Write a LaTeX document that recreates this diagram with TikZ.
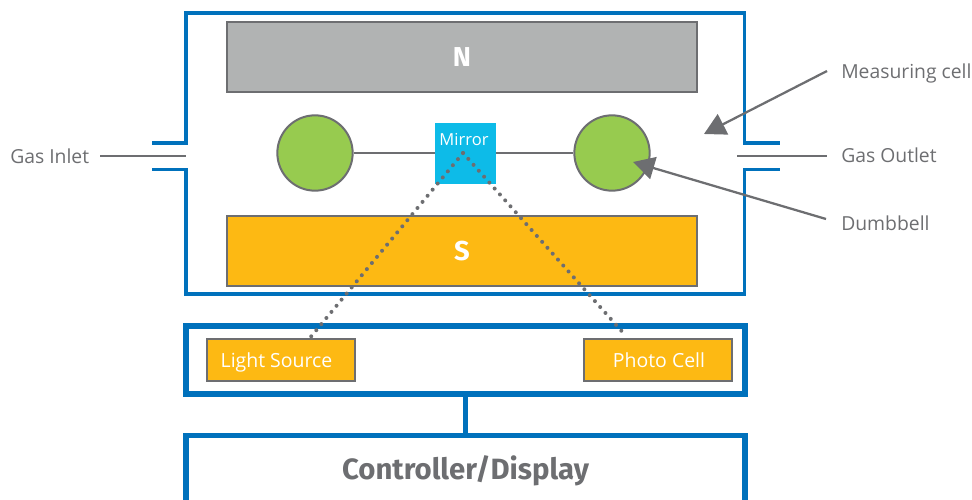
\documentclass[tikz,border=0pt]{standalone}
\usepackage{fontspec}
\setmainfont{Open Sans}
\newfontfamily\heavyfont{Fira Sans}[UprightFont=*,BoldFont=* Bold]
\usetikzlibrary{arrows.meta}
\definecolor{geblue}{HTML}{0071BC}
\definecolor{gegray}{HTML}{6D6E71}
\definecolor{magnetgray}{HTML}{B1B3B3}
\definecolor{geamber}{HTML}{FDB913}
\definecolor{gegreen}{HTML}{97CB4F}
\definecolor{mirrorblue}{HTML}{0DBBE8}
\tikzset{
  x=0.75pt,y=-0.75pt,
  cellwall/.style={draw=geblue,line width=2.7pt,line cap=butt,line join=miter},
  heavybox/.style={draw=geblue,line width=4.4pt,fill=white,inner sep=0pt,minimum width=419.5pt},
  magnet/.style={draw=gegray,line width=1.7pt,inner sep=0pt,minimum width=352pt,minimum height=52pt,text=white,font=\fontsize{20.5}{24}\selectfont\heavyfont\bfseries},
  ball/.style={circle,draw=gegray,line width=1.5pt,fill=gegreen,inner sep=0pt,minimum size=56.5pt},
  lamp/.style={draw=gegray,line width=1.6pt,fill=geamber,inner sep=0pt,minimum width=111.5pt,minimum height=31pt},
  lamptext/.style={text=white,inner sep=0pt,anchor=base,font=\fontsize{14.6}{18}\selectfont},
  lbl/.style={text=gegray,inner sep=0pt,anchor=base west,font=\fontsize{14.5}{18}\selectfont},
  thin/.style={draw=gegray,line width=1.7pt},
  ray/.style={draw=gegray,line width=3pt,line cap=round,dash pattern=on 0pt off 5.95pt},
  pointer/.style={draw=gegray,line width=1.7pt,-{Triangle[length=16pt,width=17pt,fill=gegray]}},
}
\begin{document}
\begin{tikzpicture}
\useasboundingbox (0,0) rectangle (972,500);
\clip (0,0) rectangle (972,500);
% measuring cell wall
\draw[cellwall] (152,143) -- (186,143) -- (186,13) -- (744.5,13) -- (744.5,143) -- (780,143);
\draw[cellwall] (152,169.5) -- (186,169.5) -- (186,294) -- (744.5,294) -- (744.5,169.5) -- (780,169.5);
% magnets
\node[magnet,fill=magnetgray] (north) at (462,57) {\raisebox{-0.8pt}{N}};
\node[magnet,fill=geamber] (south) at (462,251) {\raisebox{-0.8pt}{S}};
% dumbbell
\node[ball] (ballL) at (315,153) {};
\node[ball] (ballR) at (612,153) {};
\draw[thin] (ballL) -- (ballR);
\node[fill=mirrorblue,inner sep=0pt,minimum width=45.5pt,minimum height=45.5pt] (mirror) at (465.5,153.5) {};
\node[text=white,inner sep=0pt,anchor=base,font=\fontsize{12.4}{16}\selectfont] (mirrorText) at (464,145) {Mirror};
% instrument boxes
\node[heavybox,minimum height=51pt] (optics) at (465.5,360) {};
\node[heavybox,minimum height=52.5pt,text=gegray,font=\fontsize{22}{27}\selectfont\heavyfont\bfseries] (controller) at (465.5,470.5) {\raisebox{-0.7pt}{Controller/Display}};
\draw[geblue,line width=4.4pt] (optics.south) -- (controller.north);
\node[lamp] (light) at (281,360) {};
\node[lamptext] (lightText) at (276.5,367) {Light Source};
\node[lamp] (photo) at (658,360) {};
\node[lamptext] (photoText) at (659,367) {Photo Cell};
% light path
\coordinate (apex) at (463,153);
\coordinate (lightEnd) at (309,339);
\coordinate (photoEnd) at (626,336);
\draw[ray] (apex) -- (lightEnd);
\draw[ray] (apex) -- (photoEnd);
% labels
\node[lbl] (inlet) at (10,163) {Gas Inlet};
\node[lbl] (outlet) at (841,162) {Gas Outlet};
\node[lbl] (cell) at (841,78) {Measuring cell};
\node[lbl] (dumb) at (841,230) {Dumbbell};
\coordinate (inletStart) at (100,156);
\coordinate (inletEnd) at (186,156);
\coordinate (outletEnd) at (737,156);
\coordinate (outletStart) at (827,156);
\coordinate (cellStart) at (827,71);
\coordinate (dumbStart) at (826,219);
\coordinate (cellTip) at (704,134);
\coordinate (dumbTip) at (633,162);
\draw[thin] (inletStart) -- (inletEnd);
\draw[thin] (outletEnd) -- (outletStart);
\draw[pointer] (cellStart) -- (cellTip);
\draw[pointer] (dumbStart) -- (dumbTip);
\end{tikzpicture}
\end{document}
